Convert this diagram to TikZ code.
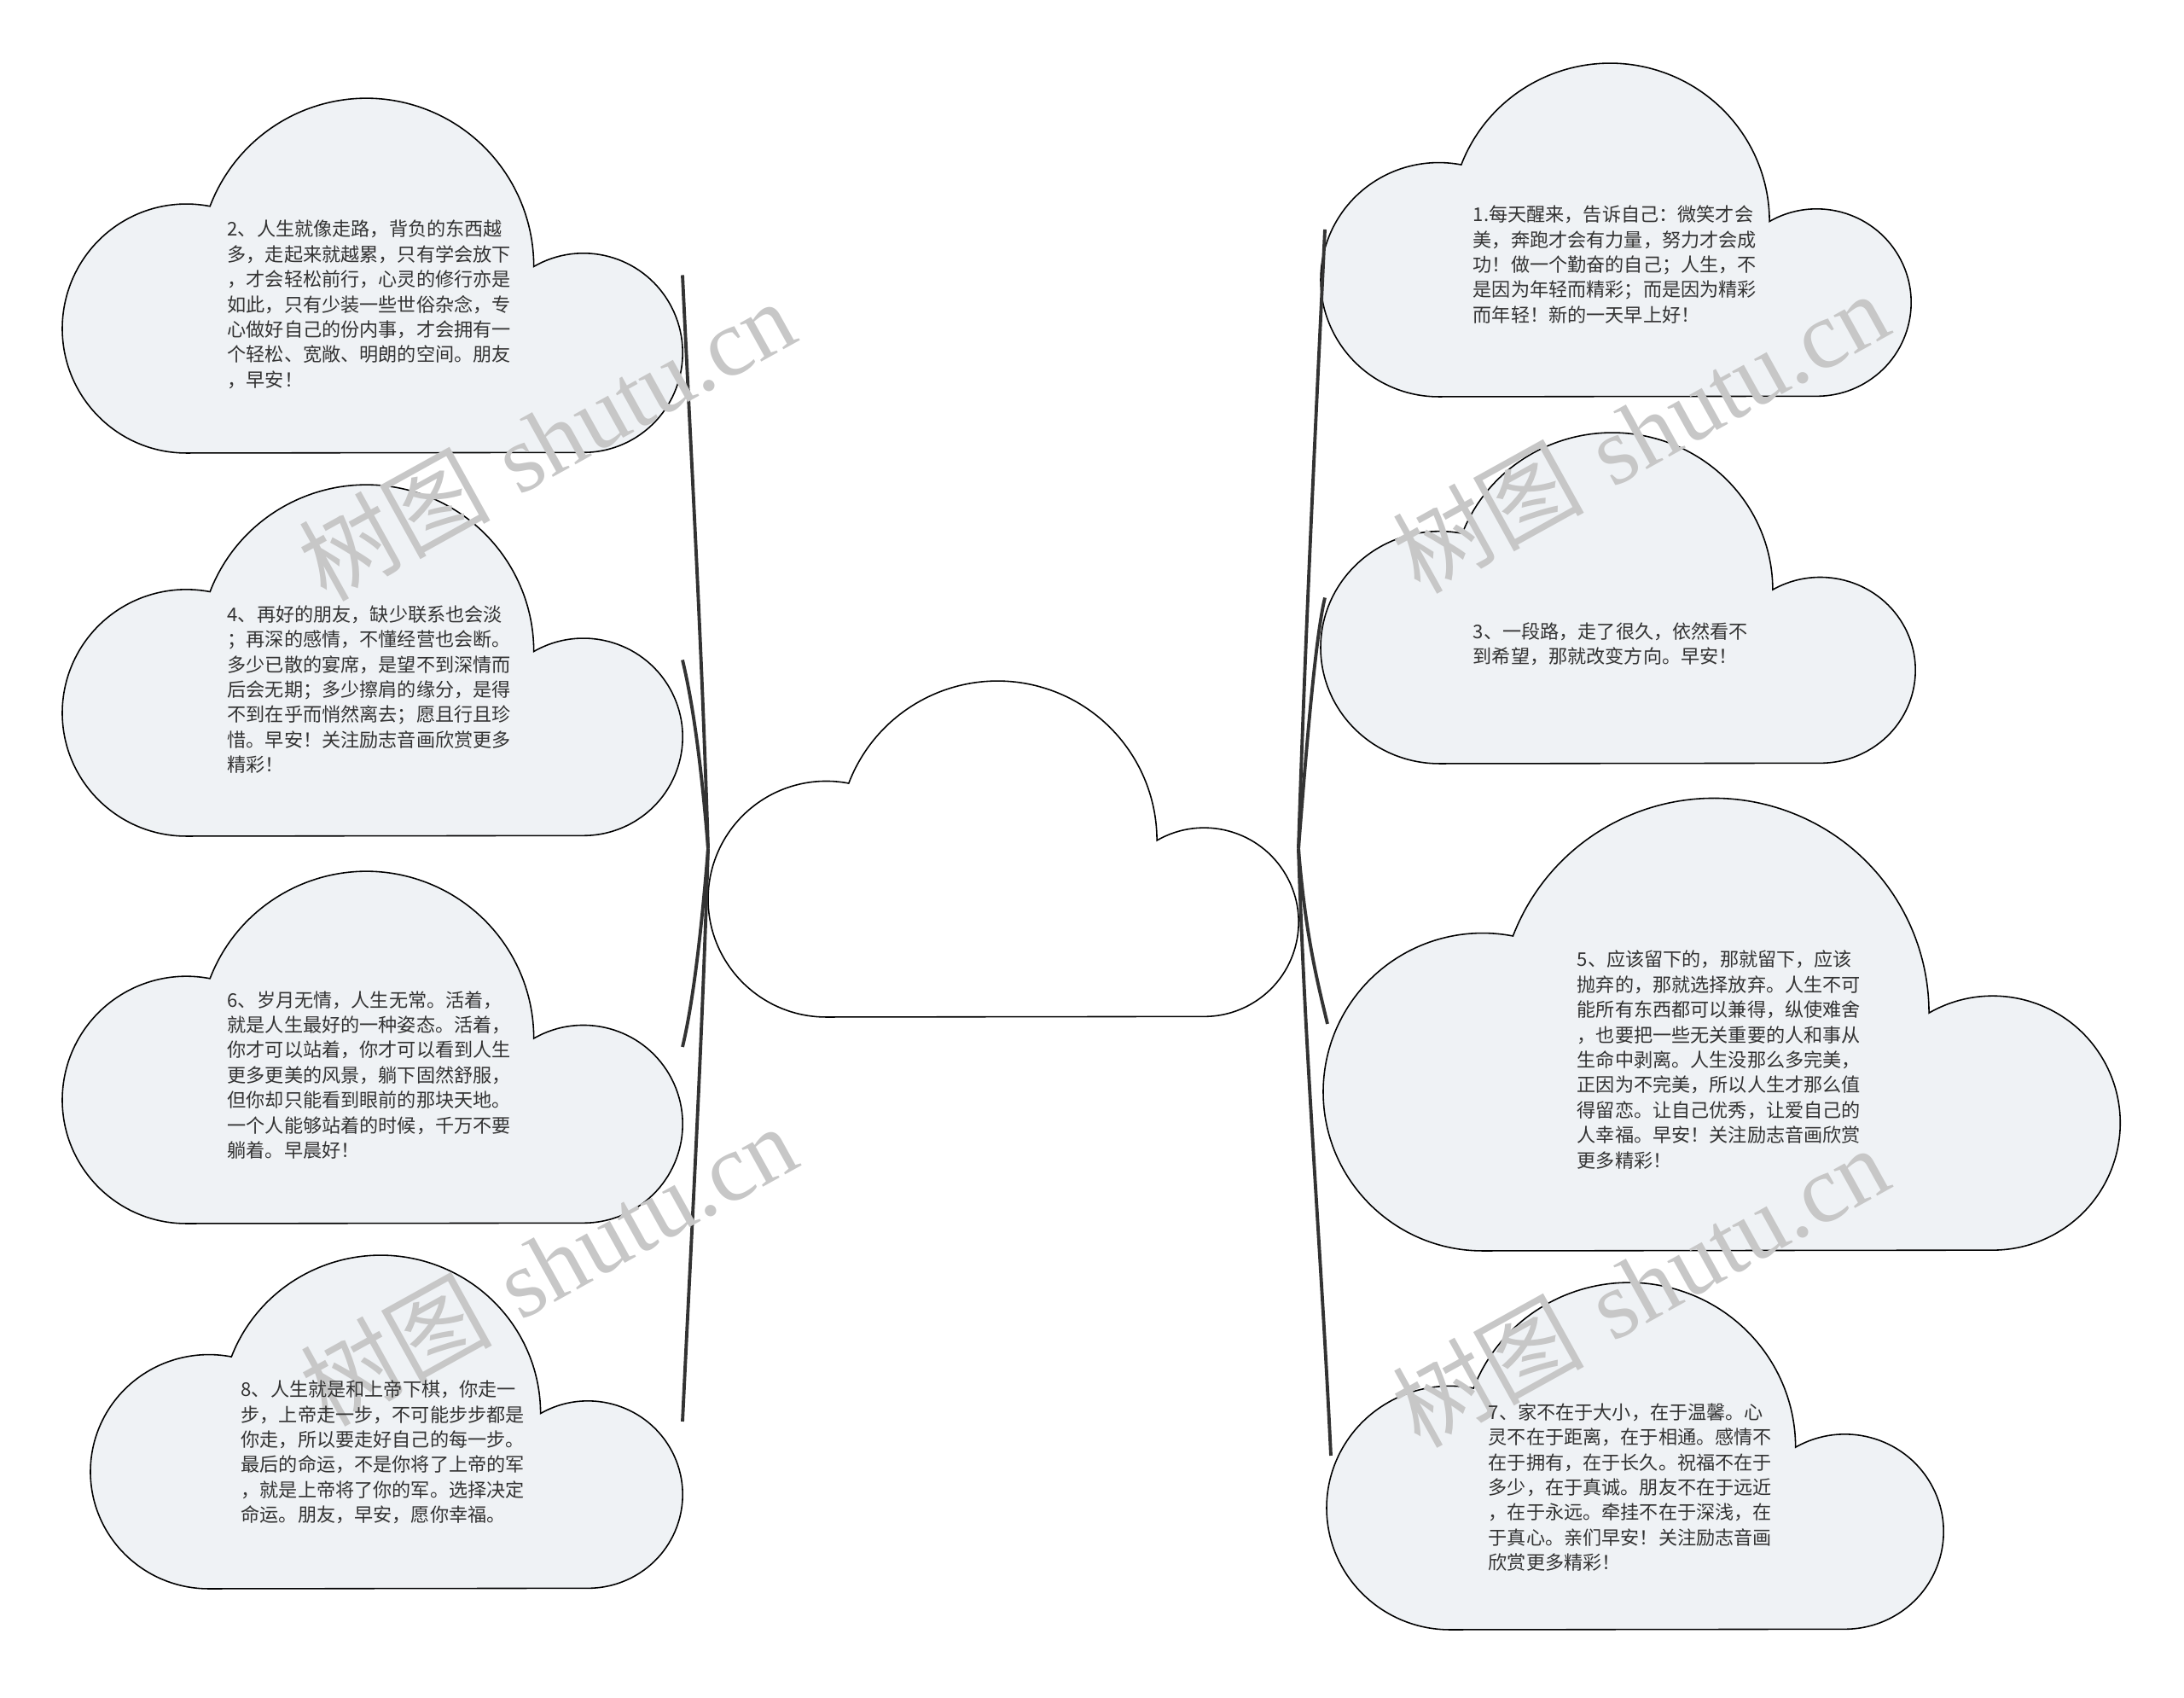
\documentclass[tikz,border=0pt]{standalone}
\usepackage{fontspec}
\newfontfamily\cjk{Noto Sans CJK SC}
\newfontfamily\wmlatin{Liberation Serif}
\definecolor{cloudfill}{RGB}{239,242,245}
\definecolor{inkgray}{RGB}{51,51,51}
% cloud outline in a unit box
\newcommand{\cloudpath}{(0.2,0) arc[start angle=270, end angle=79, x radius=0.2, y radius=0.35]
  arc[start angle=159, end angle=0, x radius=0.27, y radius=0.473]
  arc[start angle=120, end angle=-90, x radius=0.16, y radius=0.28] -- cycle}

\begin{document}
\begin{tikzpicture}[
  cloudline/.style={draw=black, line width=0.45pt},
  frame/.style={inner sep=0pt, outer sep=0pt},
  txt/.style={anchor=west, align=left, inner sep=0pt, text=inkgray, font=\cjk\fontsize{6.3}{8.37}\selectfont},
  link/.style={draw=inkgray, line width=1.1pt},
  wmtext/.style={rotate=29, text=black!22, font=\fontsize{32}{32}\selectfont}]
  \useasboundingbox (0,0) rectangle (25.6,19.9);
  \foreach \n/\x/\y/\w/\h/\f in {root/8.30/7.98/6.92/3.95/white,
      c2/0.73/14.59/7.27/4.17/cloudfill, c4/0.73/10.10/7.27/4.13/cloudfill,
      c6/0.73/5.56/7.27/4.14/cloudfill, c8/1.06/1.28/6.94/3.92/cloudfill,
      c1/15.48/15.25/6.92/3.92/cloudfill, c3/15.48/10.95/6.97/3.89/cloudfill,
      c5/15.51/5.24/9.34/5.32/cloudfill, c7/15.55/0.80/7.23/4.08/cloudfill} {
    \draw[cloudline, fill=\f, shift={(\x,\y)}, xscale=\w, yscale=\h] \cloudpath;
    \node[frame, minimum width=\w cm, minimum height=\h cm] (\n) at (\x+\w/2,\y+\h/2) {};
  }
  % branches
  \foreach \n/\a/\b in {c2/2.5/-2.5, c4/1.0/-0.5, c6/-1.0/0.5, c8/-2.5/2.5}
    \draw[link] (root.west) .. controls +(-0.08,\a) and +(0.12,\b) .. (\n.east);
  \foreach \n/\a/\b in {c1/2.5/-2.5, c3/1.0/-0.5, c5/-1.0/0.5, c7/-2.5/2.5}
    \draw[link] (root.east) .. controls +(0.08,\a) and +(-0.12,\b) .. ([xshift=0.5mm]\n.west);
  % watermarks
  \foreach \i/\x/\y in {1/6.40/14.75, 2/6.42/5.08, 3/19.22/14.84, 4/19.22/4.83}
    \node[wmtext] (wm\i) at (\x,\y) {{\cjk 树图} {\wmlatin shutu.cn}};
  % texts
  \node[txt] (t2) at (2.66,16.33) {2、人生就像走路，背负的东西越\\多，走起来就越累，只有学会放下\\，才会轻松前行，心灵的修行亦是\\如此，只有少装一些世俗杂念，专\\心做好自己的份内事，才会拥有一\\个轻松、宽敞、明朗的空间。朋友\\，早安！};
  \node[txt] (t4) at (2.66,11.82) {4、再好的朋友，缺少联系也会淡\\；再深的感情，不懂经营也会断。\\多少已散的宴席，是望不到深情而\\后会无期；多少擦肩的缘分，是得\\不到在乎而悄然离去；愿且行且珍\\惜。早安！关注励志音画欣赏更多\\精彩！};
  \node[txt] (t6) at (2.66,7.30) {6、岁月无情，人生无常。活着，\\就是人生最好的一种姿态。活着，\\你才可以站着，你才可以看到人生\\更多更美的风景，躺下固然舒服，\\但你却只能看到眼前的那块天地。\\一个人能够站着的时候，千万不要\\躺着。早晨好！};
  \node[txt] (t8) at (2.82,2.88) {8、人生就是和上帝下棋，你走一\\步，上帝走一步，不可能步步都是\\你走，所以要走好自己的每一步。\\最后的命运，不是你将了上帝的军\\，就是上帝将了你的军。选择决定\\命运。朋友，早安，愿你幸福。};
  \node[txt] (t1) at (17.26,16.80) {1.每天醒来，告诉自己：微笑才会\\美，奔跑才会有力量，努力才会成\\功！做一个勤奋的自己；人生，不\\是因为年轻而精彩；而是因为精彩\\而年轻！新的一天早上好！};
  \node[txt] (t3) at (17.26,12.35) {3、一段路，走了很久，依然看不\\到希望，那就改变方向。早安！};
  \node[txt] (t5) at (18.48,7.48) {5、应该留下的，那就留下，应该\\抛弃的，那就选择放弃。人生不可\\能所有东西都可以兼得，纵使难舍\\，也要把一些无关重要的人和事从\\生命中剥离。人生没那么多完美，\\正因为不完美，所以人生才那么值\\得留恋。让自己优秀，让爱自己的\\人幸福。早安！关注励志音画欣赏\\更多精彩！};
  \node[txt] (t7) at (17.44,2.47) {7、家不在于大小，在于温馨。心\\灵不在于距离，在于相通。感情不\\在于拥有，在于长久。祝福不在于\\多少，在于真诚。朋友不在于远近\\，在于永远。牵挂不在于深浅，在\\于真心。亲们早安！关注励志音画\\欣赏更多精彩！};
\end{tikzpicture}
\end{document}
